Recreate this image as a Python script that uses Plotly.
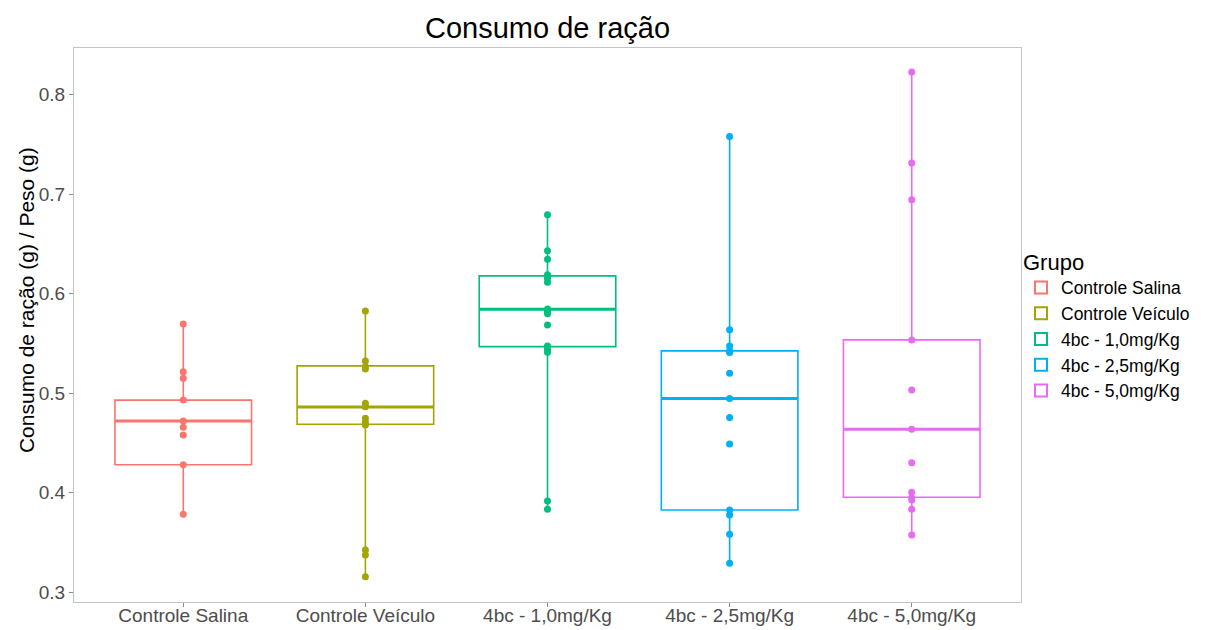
import plotly.graph_objects as go

groups = ["Controle Salina", "Controle Veículo", "4bc - 1,0mg/Kg", "4bc - 2,5mg/Kg", "4bc - 5,0mg/Kg"]
colors = ["#F8766D", "#A3A500", "#00BF7D", "#00B0F6", "#E76BF3"]

salina = [0.5696, 0.5216, 0.515, 0.493, 0.472, 0.4657, 0.458, 0.428, 0.3782]
veiculo = [0.5827, 0.5324, 0.5267, 0.5243, 0.4898, 0.4864, 0.4747, 0.4707, 0.468, 0.3423, 0.3372, 0.3154]
dose_10 = [0.6793, 0.6431, 0.6347, 0.6189, 0.6156, 0.6116, 0.5847, 0.582, 0.5797, 0.5686, 0.5475, 0.5442, 0.5411, 0.3915, 0.3832]
dose_25 = [0.758, 0.5636, 0.5475, 0.5425, 0.5408, 0.52, 0.4945, 0.4754, 0.4489, 0.3825, 0.3775, 0.358, 0.3289]
dose_50 = [0.8228, 0.7313, 0.6944, 0.5535, 0.5032, 0.4637, 0.43, 0.4003, 0.3949, 0.3926, 0.3832, 0.3573]

q1 = [0.428, 0.4687, 0.5468, 0.3825, 0.3953]
median = [0.472, 0.4861, 0.5844, 0.4945, 0.4637]
q3 = [0.493, 0.5274, 0.6179, 0.5425, 0.5535]

series = [salina, veiculo, dose_10, dose_25, dose_50]
box_width = 0.75

fig = go.Figure()
for i, (name, col, vals) in enumerate(zip(groups, colors, series)):
    fig.add_trace(go.Box(
        x=[i], q1=[q1[i]], median=[median[i]], q3=[q3[i]],
        lowerfence=[min(vals)], upperfence=[max(vals)],
        width=box_width, whiskerwidth=0, boxpoints=False,
        fillcolor="rgba(255,255,255,0)",
        line=dict(color=col, width=1.6),
        name=name, legendgroup=name, hoverinfo="skip",
    ))
    fig.add_trace(go.Scatter(
        x=[i - box_width / 2, i + box_width / 2], y=[median[i], median[i]],
        mode="lines", line=dict(color=col, width=3),
        showlegend=False, legendgroup=name, hoverinfo="skip",
    ))
    fig.add_trace(go.Scatter(
        x=[i] * len(vals), y=vals, mode="markers",
        marker=dict(color=col, size=7),
        showlegend=False, legendgroup=name,
    ))

font_family = "Liberation Sans, Arial, sans-serif"
W, H = 1209, 622
fig.update_layout(
    width=W, height=H,
    margin=dict(l=66, r=196, t=40, b=28),
    paper_bgcolor="white", plot_bgcolor="white",
    font=dict(family=font_family, color="black"),
    title=dict(text="Consumo de ração", x=0.5, xref="paper", xanchor="center",
               y=1 - 20 / H, yref="container", yanchor="middle",
               font=dict(size=29, color="black")),
    showlegend=True,
    legend=dict(
        x=1.0, xanchor="left", y=0.5, yanchor="middle",
        bgcolor="rgba(0,0,0,0)",
        title=dict(text="Grupo", font=dict(size=22, color="black")),
        font=dict(size=17.5, color="black"),
        tracegroupgap=0, itemsizing="constant",
    ),
    annotations=[dict(
        text="Consumo de ração (g) / Peso (g)", textangle=-90,
        xref="paper", yref="paper", x=-0.0507, y=0.545,
        xanchor="center", yanchor="middle", showarrow=False,
        font=dict(size=21, color="black"),
    )],
)
fig.update_xaxes(
    range=[-0.6, 4.6], tickvals=list(range(len(groups))), ticktext=groups,
    showgrid=False, zeroline=False, showline=True, mirror=True,
    linecolor="#c4c4c4", linewidth=1,
    ticks="outside", ticklen=4, tickcolor="#8a8a8a",
    tickfont=dict(size=19, color="#4d4d4d"), automargin=False,
    ticklabelstandoff=-8,
)
fig.update_yaxes(
    range=[0.29, 0.847], dtick=0.1, tick0=0.3, tickformat=".1f",
    showgrid=False, zeroline=False, showline=True, mirror=True,
    linecolor="#c4c4c4", linewidth=1,
    ticks="outside", ticklen=4, tickcolor="#8a8a8a",
    tickfont=dict(size=19, color="#4d4d4d"),
    automargin=False,
)

fig.write_html("out.html")
